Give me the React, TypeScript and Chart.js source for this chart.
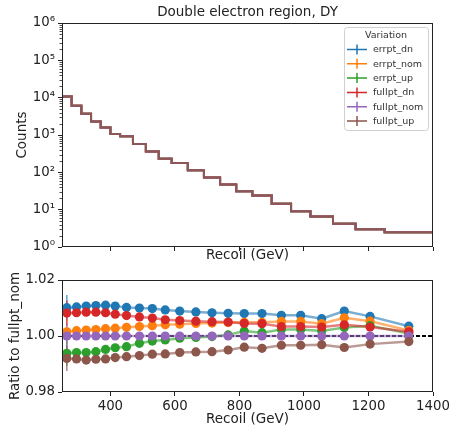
import React, { useEffect, useRef } from 'react';
import { Chart, registerables } from 'chart.js';

Chart.register(...registerables);

// ---------------- data ----------------
const binEdges = [250, 280, 310, 340, 370, 400, 430, 470, 510, 550, 590, 640, 690, 740, 790, 840, 900, 960, 1020, 1090, 1160, 1250, 1400];
const counts = [10700, 6100, 3700, 2300, 1600, 1060, 920, 570, 360, 230, 178, 113, 73, 47, 31, 24, 14.5, 9, 6.6, 4.2, 3.0, 2.5];

const seriesNames = ['errpt_dn', 'errpt_nom', 'errpt_up', 'fullpt_dn', 'fullpt_nom', 'fullpt_up'];
const seriesColors = ['#1f77b4', '#ff7f0e', '#2ca02c', '#d62728', '#9467bd', '#8c564b'];

const ratioErrptDn = [1.0101, 1.0104, 1.0107, 1.0109, 1.0110, 1.0107, 1.0102, 1.0100, 1.0098, 1.0093, 1.0089, 1.0086, 1.0083, 1.0081, 1.0080, 1.0080, 1.0074, 1.0074, 1.0062, 1.0089, 1.0070, 1.0035];
const ratioErrptNom = [1.0015, 1.0019, 1.0021, 1.0023, 1.0026, 1.0028, 1.0031, 1.0034, 1.0037, 1.0040, 1.0042, 1.0045, 1.0046, 1.0048, 1.0049, 1.0049, 1.0052, 1.0052, 1.0044, 1.0065, 1.0053, 1.0020];
const ratioErrptUp = [0.9938, 0.9941, 0.9941, 0.9944, 0.9952, 0.9958, 0.9962, 0.9974, 0.9982, 0.9986, 0.9992, 0.9995, 0.9998, 1.0004, 1.0018, 1.0012, 1.0023, 1.0023, 1.0018, 1.0030, 1.0037, 1.0009];
const ratioFullptDn = [1.0082, 1.0083, 1.0085, 1.0085, 1.0083, 1.0078, 1.0073, 1.0068, 1.0064, 1.0058, 1.0055, 1.0053, 1.0051, 1.0050, 1.0045, 1.0044, 1.0034, 1.0034, 1.0032, 1.0040, 1.0032, 1.0015];
const ratioFullptNom = [1, 1, 1, 1, 1, 1, 1, 1, 1, 1, 1, 1, 1, 1, 1, 1, 1, 1, 1, 1, 1, 1];
const ratioFullptUp = [0.9920, 0.9918, 0.9914, 0.9917, 0.9918, 0.9923, 0.9926, 0.9930, 0.9935, 0.9936, 0.9941, 0.9943, 0.9944, 0.9950, 0.9960, 0.9956, 0.9967, 0.9967, 0.9969, 0.9959, 0.9971, 0.9980];
const ratioUncertainty = [0.0045, 0.0008, 0.0008, 0.0008, 0.0008, 0.0008, 0.0008, 0.0008, 0.0008, 0.0008, 0.0008, 0.0008, 0.0008, 0.0008, 0.0008, 0.0008, 0.0008, 0.0008, 0.0008, 0.0008, 0.0008, 0.0008];

const countTicks = [1, 10, 100, 1000, 10000, 100000, 1000000];
const ratioTicks = [0.98, 1.0, 1.02];
const recoilTicks = [400, 600, 800, 1000, 1200, 1400];

const ratioSeries = [ratioErrptDn, ratioErrptNom, ratioErrptUp, ratioFullptDn, ratioFullptNom, ratioFullptUp];

// ---------------- helpers ----------------
const FONT = 'DejaVu Sans';
const TEXT = '#222';
const SUP = ['⁰', '¹', '²', '³', '⁴', '⁵', '⁶', '⁷', '⁸', '⁹'];
const binCenters = counts.map((_, i) => (binEdges[i] + binEdges[i + 1]) / 2);

function withAlpha(hex: string, a: number) {
  const r = parseInt(hex.slice(1, 3), 16), g = parseInt(hex.slice(3, 5), 16), b = parseInt(hex.slice(5, 7), 16);
  return `rgba(${r},${g},${b},${a})`;
}

const framePlugin = {
  id: 'frame',
  afterDraw(chart: any) {
    const { ctx, chartArea: a } = chart;
    ctx.save();
    ctx.strokeStyle = '#222';
    ctx.lineWidth = 1;
    ctx.strokeRect(Math.round(a.left) + 0.5, Math.round(a.top) + 0.5, Math.round(a.right - a.left) - 1, Math.round(a.bottom - a.top) - 1);
    ctx.restore();
  },
};

const minorLogTicksPlugin = {
  id: 'minorLogTicks',
  afterDraw(chart: any) {
    const { ctx, chartArea: a } = chart;
    const y = chart.scales.y;
    ctx.save();
    ctx.strokeStyle = '#222';
    ctx.lineWidth = 0.8;
    for (let e = 0; e < 6; e++) {
      for (let m = 2; m <= 9; m++) {
        const py = Math.round(y.getPixelForValue(m * Math.pow(10, e))) + 0.5;
        ctx.beginPath();
        ctx.moveTo(a.left - 2.5, py);
        ctx.lineTo(a.left, py);
        ctx.stroke();
      }
    }
    ctx.restore();
  },
};

const legendPlugin = {
  id: 'customLegend',
  afterDraw(chart: any) {
    const { ctx, chartArea: a } = chart;
    const x0 = a.right - 89, x1 = a.right - 5, y0 = a.top + 4, y1 = a.top + 107;
    ctx.save();
    ctx.beginPath();
    ctx.roundRect(x0 + 0.5, y0 + 0.5, x1 - x0, y1 - y0, 3);
    ctx.fillStyle = 'rgba(255,255,255,0.85)';
    ctx.fill();
    ctx.strokeStyle = '#d0d0d0';
    ctx.lineWidth = 1;
    ctx.stroke();
    ctx.font = `9.5px "${FONT}"`;
    ctx.fillStyle = '#333';
    ctx.textBaseline = 'middle';
    ctx.textAlign = 'center';
    ctx.fillText('Variation', (x0 + x1) / 2, y0 + 8.5);
    ctx.textAlign = 'left';
    seriesNames.forEach((name, i) => {
      const cy = y0 + 22.5 + i * 14.3;
      ctx.strokeStyle = seriesColors[i];
      ctx.lineWidth = 1.5;
      ctx.beginPath();
      ctx.moveTo(x0 + 3, cy);
      ctx.lineTo(x0 + 23, cy);
      ctx.moveTo(x0 + 13, cy - 5);
      ctx.lineTo(x0 + 13, cy + 5);
      ctx.stroke();
      ctx.fillStyle = '#333';
      ctx.fillText(name, x0 + 29, cy + 0.5);
    });
    ctx.restore();
  },
};

const unityLinePlugin = {
  id: 'unityLine',
  beforeDatasetsDraw(chart: any) {
    const { ctx, chartArea: a } = chart;
    const y = chart.scales.y.getPixelForValue(1.0);
    ctx.save();
    ctx.beginPath();
    ctx.rect(a.left, a.top, a.right - a.left, a.bottom - a.top);
    ctx.clip();
    ctx.strokeStyle = '#000';
    ctx.lineWidth = 2;
    ctx.setLineDash([4, 2]);
    ctx.beginPath();
    ctx.moveTo(a.left, y);
    ctx.lineTo(a.right, y);
    ctx.stroke();
    ctx.setLineDash([]);
    // vertical error bars
    const xs = chart.scales.x, ys = chart.scales.y;
    ratioSeries.forEach((vals, si) => {
      ctx.strokeStyle = withAlpha(seriesColors[si], 0.7);
      ctx.lineWidth = 1.5;
      vals.forEach((v, i) => {
        const px = xs.getPixelForValue(binCenters[i]);
        ctx.beginPath();
        ctx.moveTo(px, ys.getPixelForValue(v - ratioUncertainty[i]));
        ctx.lineTo(px, ys.getPixelForValue(v + ratioUncertainty[i]));
        ctx.stroke();
      });
    });
    ctx.restore();
  },
};

const tickFont = { family: FONT, size: 13.3 };
const titleFont = { family: FONT, size: 13.5 };

export default function App() {
  const topRef = useRef<HTMLCanvasElement>(null);
  const botRef = useRef<HTMLCanvasElement>(null);

  useEffect(() => {
    Chart.defaults.font.family = FONT;
    Chart.defaults.color = TEXT;

    const topChart = new Chart(topRef.current as HTMLCanvasElement, {
      type: 'line',
      data: {
        datasets: seriesNames.map((name, i) => ({
          label: name,
          data: binEdges.map((x, k) => ({ x, y: counts[Math.min(k, counts.length - 1)] })),
          borderColor: withAlpha(seriesColors[i], 0.9),
          backgroundColor: seriesColors[i],
          borderWidth: 2,
          pointRadius: 0,
          stepped: 'before' as const,
          order: seriesNames.length - 1 - i,
        })),
      },
      options: {
        animation: false,
        responsive: false,
        devicePixelRatio: 1,
        layout: { padding: { left: 0, right: 20, top: 0, bottom: 0 } },
        plugins: {
          legend: { display: false },
          tooltip: { enabled: false },
          title: {
            display: true,
            text: 'Double electron region, DY',
            fullSize: false,
            color: TEXT,
            font: { ...titleFont, weight: 'normal' },
            padding: { top: 4.6, bottom: 2.2 },
          },
        },
        scales: {
          x: {
            type: 'linear',
            min: 250,
            max: 1400,
            afterBuildTicks: (s: any) => { s.ticks = recoilTicks.map((v) => ({ value: v })); },
            afterFit: (s: any) => { s.height = 18; },
            ticks: { display: false },
            grid: { display: true, drawOnChartArea: false, drawTicks: true, tickLength: 4, tickColor: '#222', tickWidth: 1 },
            border: { display: false },
            title: { display: true, text: 'Recoil (GeV)', font: titleFont, color: TEXT, padding: { top: 0, bottom: 1.9 } },
          },
          y: {
            type: 'logarithmic',
            min: 1,
            max: 1000000,
            afterBuildTicks: (s: any) => { s.ticks = countTicks.map((v) => ({ value: v })); },
            afterFit: (s: any) => { s.width = 62; },
            ticks: {
              font: tickFont,
              color: TEXT,
              padding: 3,
              autoSkip: false,
              callback: (v: any) => '10' + SUP[Math.round(Math.log10(Number(v)))],
            },
            grid: { display: true, drawOnChartArea: false, drawTicks: true, tickLength: 4, tickColor: '#222', tickWidth: 1 },
            border: { display: false },
            title: { display: true, text: 'Counts', font: titleFont, color: TEXT, padding: { top: 13.9, bottom: 0 } },
          },
        },
      },
      plugins: [framePlugin, minorLogTicksPlugin, legendPlugin],
    } as any);

    const botChart = new Chart(botRef.current as HTMLCanvasElement, {
      type: 'line',
      data: {
        datasets: seriesNames.map((name, i) => ({
          label: name,
          data: binCenters.map((x, k) => ({ x, y: ratioSeries[i][k] })),
          borderColor: withAlpha(seriesColors[i], 0.6),
          backgroundColor: seriesColors[i],
          borderWidth: 2.5,
          pointRadius: 4.6,
          pointBorderWidth: 0,
          pointBackgroundColor: seriesColors[i],
          pointBorderColor: seriesColors[i],
          order: seriesNames.length - 1 - i,
        })),
      },
      options: {
        animation: false,
        responsive: false,
        devicePixelRatio: 1,
        layout: { padding: { left: 0, right: 20, top: 15, bottom: 0 } },
        plugins: { legend: { display: false }, tooltip: { enabled: false }, title: { display: false } },
        scales: {
          x: {
            type: 'linear',
            min: 250,
            max: 1400,
            afterBuildTicks: (s: any) => { s.ticks = recoilTicks.map((v) => ({ value: v })); },
            afterFit: (s: any) => { s.height = 36; },
            ticks: { font: tickFont, color: TEXT, padding: 3, autoSkip: false, maxRotation: 0, callback: (v: any) => String(v) },
            grid: { display: true, drawOnChartArea: false, drawTicks: true, tickLength: 4, tickColor: '#222', tickWidth: 1 },
            border: { display: false },
            title: { display: true, text: 'Recoil (GeV)', font: titleFont, color: TEXT, padding: { top: 0, bottom: 0.6 } },
          },
          y: {
            type: 'linear',
            min: 0.98,
            max: 1.02,
            afterBuildTicks: (s: any) => { s.ticks = ratioTicks.map((v) => ({ value: v })); },
            afterFit: (s: any) => { s.width = 62; },
            ticks: { font: tickFont, color: TEXT, padding: 3, autoSkip: false, callback: (v: any) => Number(v).toFixed(2) },
            grid: { display: true, drawOnChartArea: false, drawTicks: true, tickLength: 4, tickColor: '#222', tickWidth: 1 },
            border: { display: false },
            title: { display: true, text: 'Ratio to fullpt_nom', font: titleFont, color: TEXT, padding: { top: 6.9, bottom: 0 } },
          },
        },
      },
      plugins: [unityLinePlugin, framePlugin],
    } as any);

    return () => {
      topChart.destroy();
      botChart.destroy();
    };
  }, []);

  return (
    <div style={{ position: 'absolute', left: 0, top: 0, width: 453, height: 428, background: '#fff' }}>
      <canvas ref={topRef} width={453} height={265} style={{ position: 'absolute', left: 0, top: 0 }} />
      <canvas ref={botRef} width={453} height={163} style={{ position: 'absolute', left: 0, top: 265 }} />
    </div>
  );
}
